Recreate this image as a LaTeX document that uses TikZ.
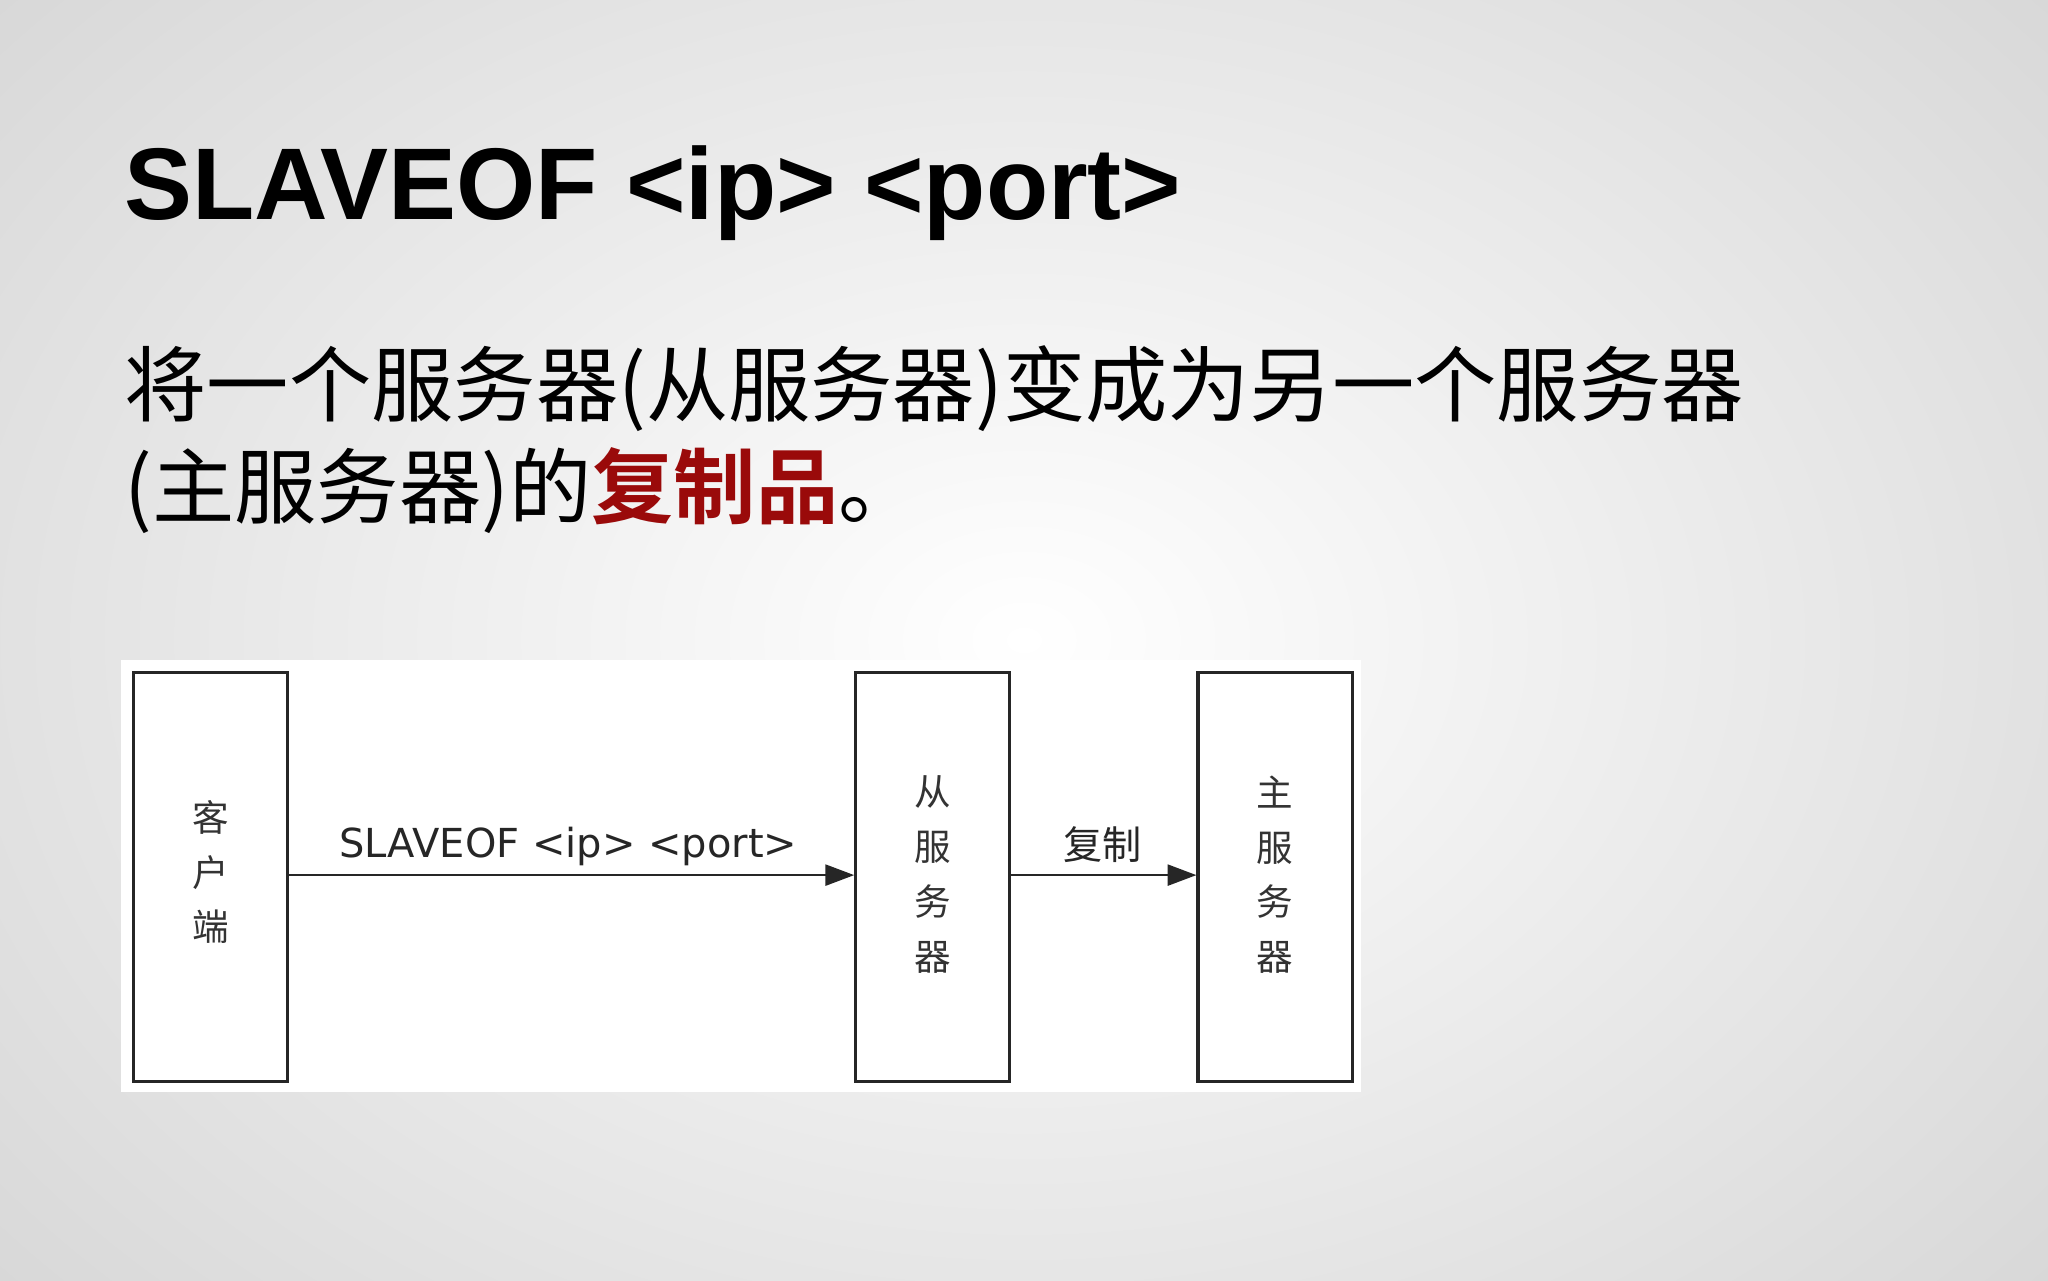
\documentclass[tikz,border=0pt]{standalone}
\usepackage{fontspec}
\usetikzlibrary{arrows.meta}
\setmainfont{Liberation Sans}
\newfontfamily\cjk{Noto Sans CJK SC}
\newfontfamily\cjkb{Noto Sans CJK SC Bold}
\newfontfamily\djv{DejaVu Sans}
\definecolor{hl}{HTML}{9A0A0A}
\begin{document}
\begin{tikzpicture}[x=0.5pt,y=-0.5pt,
  box/.style={draw=black!85,line width=1.2pt,minimum width=59pt,minimum height=156.5pt,inner sep=0pt,anchor=north west},
  vt/.style={font=\cjk\fontsize{14}{21}\selectfont,align=center,text=black!80},
  lab/.style={font=\fontsize{14}{16}\selectfont,text=black!85},
  arr/.style={-{Triangle[length=11pt,width=8pt]},line width=1pt,black!85}]
\useasboundingbox (0,0) rectangle (1568,980);
\shade[inner color=white,outer color=black!16] (-300,-300) rectangle (1868,1280);
\node[anchor=base west,inner sep=0pt,font=\bfseries\fontsize{39}{40}\selectfont] (title) at (95,168) {SLAVEOF <ip> <port>};
\node[anchor=base west,inner sep=0pt,font=\cjk\fontsize{31.5}{38}\selectfont] (l1) at (95,318) {将一个服务器(从服务器)变成为另一个服务器};
\node[anchor=base west,inner sep=0pt,font=\cjk\fontsize{31.5}{38}\selectfont] (l2) at (95,396) {(主服务器)的{\cjkb\color{hl}复制品}。};
\fill[white] (93,505) rectangle (1042,836);
\node[box] (c) at (101,514) {};
\node[box] (s) at (654,514) {};
\node[box] (m) at (916,514) {};
\node[vt] at ([yshift=2pt]c.center) {客\\户\\端};
\node[vt] at ([yshift=1pt]s.center) {从\\服\\务\\器};
\node[vt] at ([yshift=1pt]m.center) {主\\服\\务\\器};
\draw[arr] (c.east |- 0,670) -- (s.west |- 0,670);
\draw[arr] (s.east |- 0,670) -- (m.west |- 0,670);
\node[lab,font=\djv\fontsize{15.3}{17}\selectfont] at (435,648) {SLAVEOF <ip> <port>};
\node[lab,font=\cjk\fontsize{15}{17}\selectfont] at (844,647) {复制};
\end{tikzpicture}
\end{document}
